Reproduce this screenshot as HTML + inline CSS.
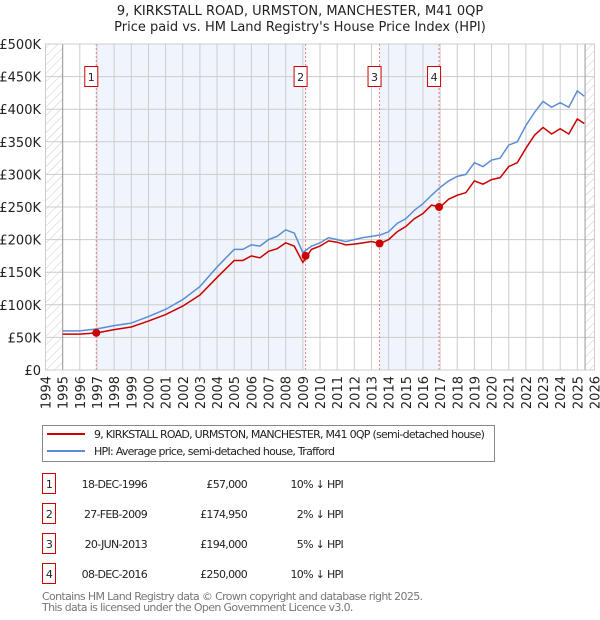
<!DOCTYPE html>
<html><head><meta charset="utf-8"><style>
body{margin:0;background:#fff;font-family:"Liberation Sans","DejaVu Sans",sans-serif}
svg{display:block}
</style></head><body>
<svg width="600" height="620" xmlns="http://www.w3.org/2000/svg">
<defs><pattern id="hatch" width="6" height="6" patternUnits="userSpaceOnUse" patternTransform="rotate(45)"><line x1="0" y1="0" x2="0" y2="6" stroke="#ccc" stroke-width="1"/></pattern></defs>
<g font-family="DejaVu Sans, Liberation Sans, sans-serif" font-size="13" text-anchor="middle" fill="#222">
<text x="300" y="15">9, KIRKSTALL ROAD, URMSTON, MANCHESTER, M41 0QP</text>
<text x="300" y="31">Price paid vs. HM Land Registry's House Price Index (HPI)</text>
</g>
<g id="plot"></g>
<g id="axes" font-family="DejaVu Sans, Liberation Sans, sans-serif" font-size="13" fill="#222"></g>
<g font-family="DejaVu Sans, sans-serif" font-size="11" letter-spacing="-0.73" fill="#222">
<rect x="42.5" y="425.5" width="452" height="36" fill="#fff" stroke="#888"/>
<line x1="47" y1="434" x2="85" y2="434" stroke="#cc0000" stroke-width="2"/>
<text x="94" y="438">9, KIRKSTALL ROAD, URMSTON, MANCHESTER, M41 0QP (semi-detached house)</text>
<line x1="47" y1="451" x2="85" y2="451" stroke="#5b8dd6" stroke-width="2"/>
<text x="94" y="455">HPI: Average price, semi-detached house, Trafford</text>
</g>
<g id="table" font-family="DejaVu Sans, sans-serif" font-size="11" letter-spacing="-0.7" fill="#222"></g>
<g font-family="DejaVu Sans, sans-serif" font-size="11" letter-spacing="-0.65" fill="#777">
<text x="42" y="600">Contains HM Land Registry data © Crown copyright and database right 2025.</text>
<text x="42" y="611">This data is licensed under the Open Government Licence v3.0.</text>
</g>
</svg>
<script>
const years=[1995,1996,1997,1998,1999,2000,2001,2002,2003,2004,2005,2005.5,2006,2006.5,2007,2007.5,2008,2008.5,2009,2009.5,2010,2010.5,2011,2011.5,2012,2012.5,2013,2013.5,2014,2014.5,2015,2015.5,2016,2016.5,2017,2017.5,2018,2018.5,2019,2019.5,2020,2020.5,2021,2021.5,2022,2022.5,2023,2023.5,2024,2024.5,2025,2025.4];
const hpiValues=[60,60,63,68,72,82,93,108,128,158,185,185,192,190,200,205,215,210,180,190,195,203,200,197,200,203,205,207,212,225,232,245,255,268,280,290,297,300,318,312,322,325,345,350,375,395,412,403,410,403,428,420];
const priceValues=[55,55,57,62,66,75,85,98,115,142,168,168,175,172,182,186,195,190,165,185,190,198,196,192,193,195,197,194,200,212,220,232,240,253,250,262,268,272,290,285,292,295,312,318,340,360,372,362,370,362,385,378];
const saleYears=[1996.96,2009.16,2013.47,2016.94];
const salePrices=[57,174.95,194,250];
const saleLabels=["1","2","3","4"];
const saleDates=["18-DEC-1996","27-FEB-2009","20-JUN-2013","08-DEC-2016"];
const salePriceText=["£57,000","£174,950","£194,000","£250,000"];
const saleHpiText=["10% ↓ HPI","2% ↓ HPI","5% ↓ HPI","10% ↓ HPI"];
const yTicks=[0,50,100,150,200,250,300,350,400,450,500];
const yTickLabels=["£0","£50K","£100K","£150K","£200K","£250K","£300K","£350K","£400K","£450K","£500K"];
const xTicks=[1994,1995,1996,1997,1998,1999,2000,2001,2002,2003,2004,2005,2006,2007,2008,2009,2010,2011,2012,2013,2014,2015,2016,2017,2018,2019,2020,2021,2022,2023,2024,2025,2026];

const NS="http://www.w3.org/2000/svg";
const X0=45.5,X1=594.5,Y0=370,Y1=44;
const xs=y=>X0+(y-1994)/(2026-1994)*(X1-X0);
const ys=v=>Y0-v/500*(Y0-Y1);
function mk(tag,attrs,parent){const e=document.createElementNS(NS,tag);for(const k in attrs)e.setAttribute(k,attrs[k]);parent.appendChild(e);return e;}
const plot=document.getElementById('plot'),axes=document.getElementById('axes'),table=document.getElementById('table');

mk('rect',{x:X0,y:Y1,width:X1-X0,height:Y0-Y1,fill:'#fff'},plot);
let sh=mk('rect',{x:xs(saleYears[0]),y:Y1,width:xs(saleYears[1])-xs(saleYears[0]),height:Y0-Y1,fill:'#f0f4fc'},plot);


sh=mk('rect',{x:xs(saleYears[2]),y:Y1,width:xs(saleYears[3])-xs(saleYears[2]),height:Y0-Y1,fill:'#f0f4fc'},plot);


let h=mk('rect',{x:X0,y:Y1,width:xs(1995)-X0,height:Y0-Y1,fill:'url(#hatch)'},plot);


h=mk('rect',{x:xs(2025.45),y:Y1,width:X1-xs(2025.45),height:Y0-Y1,fill:'url(#hatch)'},plot);


xTicks.forEach(t=>mk('line',{x1:xs(t),x2:xs(t),y1:Y1,y2:Y0,stroke:'#ccc','stroke-width':1},plot));
yTicks.forEach(t=>mk('line',{x1:X0,x2:X1,y1:ys(t),y2:ys(t),stroke:'#ccc','stroke-width':1},plot));
mk('line',{x1:xs(1995),x2:xs(1995),y1:Y1,y2:Y0,stroke:'#999'},plot);
mk('line',{x1:xs(2025.45),x2:xs(2025.45),y1:Y1,y2:Y0,stroke:'#999'},plot);
saleYears.forEach((s,i)=>{
  const l=mk('line',{x1:xs(s),x2:xs(s),y1:Y1,y2:Y0,stroke:'#f08080','stroke-dasharray':'2,2'},plot);
  
  
  const g=mk('g',{},plot);
  
  
  mk('rect',{x:xs(s)-11.5,y:66.5,width:13,height:20,fill:'#fff',stroke:'#cc0000'},g);
  const t=mk('text',{x:xs(s)-5,y:81,'text-anchor':'middle','font-size':11,'font-family':'DejaVu Sans, sans-serif',fill:'#222'},g);t.textContent=saleLabels[i];
});
const hp=mk('polyline',{points:years.map((y,i)=>xs(y)+','+ys(hpiValues[i])).join(' '),fill:'none',stroke:'#5b8dd6','stroke-width':1.5},plot);


const pp=mk('polyline',{points:years.map((y,i)=>xs(y)+','+ys(priceValues[i])).join(' '),fill:'none',stroke:'#cc0000','stroke-width':1.5},plot);


saleYears.forEach((s,i)=>{
  const c=mk('circle',{cx:xs(s),cy:ys(salePrices[i]),r:4,fill:'#cc0000'},plot);
  
  
});
mk('rect',{x:X0,y:Y1,width:X1-X0,height:Y0-Y1,fill:'none',stroke:'#ccc'},plot);
yTicks.forEach((t,i)=>{const e=mk('text',{x:41,y:ys(t)+5,'text-anchor':'end'},axes);e.textContent=yTickLabels[i];
  
  });
xTicks.forEach(t=>{const e=mk('text',{x:0,y:0,'text-anchor':'end',transform:`translate(${xs(t)+5},376) rotate(-90)`},axes);e.textContent=t;
  
  });
saleYears.forEach((s,i)=>{
  const cy=484+i*30;
  const g=mk('g',{},table);
  
  
  mk('rect',{x:42.5,y:cy-10.5,width:13,height:20,fill:'#fff',stroke:'#cc0000'},g);
  let t=mk('text',{x:49,y:cy+4,'text-anchor':'middle'},g);t.textContent=saleLabels[i];
  t=mk('text',{x:147,y:cy+4,'text-anchor':'end'},g);t.textContent=saleDates[i];
  t=mk('text',{x:247,y:cy+4,'text-anchor':'end'},g);t.textContent=salePriceText[i];
  t=mk('text',{x:343,y:cy+4,'text-anchor':'end'},g);t.textContent=saleHpiText[i];
});
</script>
</body></html>
